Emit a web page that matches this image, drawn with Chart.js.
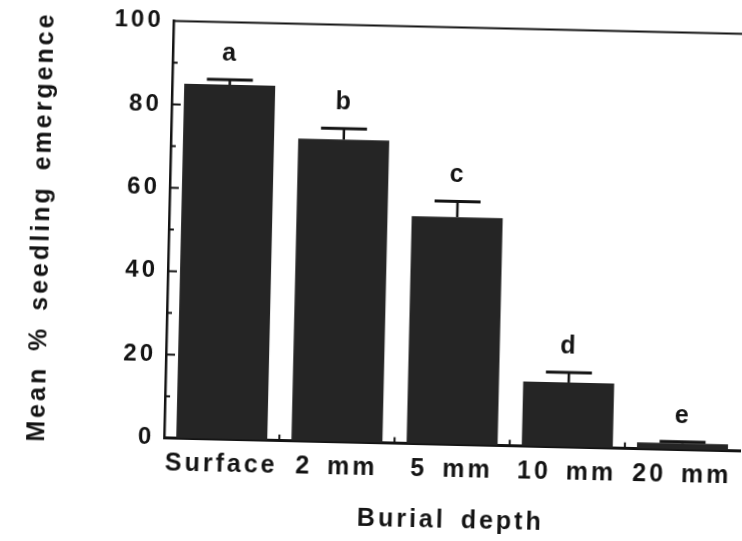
<!DOCTYPE html>
<html>
<head>
<meta charset="utf-8">
<script src="https://cdn.jsdelivr.net/npm/chart.js@4.4.1/dist/chart.umd.min.js"></script>
<style>
  html, body { margin: 0; padding: 0; background: #fff; overflow: hidden; width: 742px; height: 541px; }
  /* the printed figure sits slightly askew on the page */
  #wrap { position: absolute; left: 0; top: 0; width: 760px; height: 541px;
          transform-origin: 371px 270.5px; transform: rotate(1.3deg); }
  canvas { display: block; }
</style>
</head>
<body>
<div id="wrap"><canvas id="chart" width="760" height="541"></canvas></div>
<script>
// Seedling emergence by burial depth (means with standard errors)
const categories = ['Surface', '2 mm', '5 mm', '10 mm', '20 mm'];
const meanEmergence = [85, 72.5, 54.5, 15.5, 1.5];
const stdError = [1.2, 2.6, 3.8, 2.4, 0.4];
const groupLetters = ['a', 'b', 'c', 'd', 'e'];
const yTickValues = [0, 20, 40, 60, 80, 100];

const FONT = "'Liberation Sans', Arial, Helvetica, sans-serif";
const INK = '#141414';
const BAR = '#252525';

function setSpacing(chart) {
  chart.ctx.letterSpacing = '3px';
  chart.ctx.wordSpacing = '5px';
}

const spacingPlugin = {
  id: 'spacing',
  beforeUpdate: setSpacing,
  beforeDraw: setSpacing
};

function seg(ctx, x1, y1, x2, y2) {
  ctx.beginPath();
  ctx.moveTo(x1, y1);
  ctx.lineTo(x2, y2);
  ctx.stroke();
}

// frame top line, inner tick marks, error bars and significance letters
const decorPlugin = {
  id: 'decor',
  afterDatasetsDraw(chart) {
    const { ctx, chartArea: a, scales: { x, y } } = chart;
    ctx.save();
    ctx.strokeStyle = INK;
    ctx.fillStyle = INK;
    ctx.lineCap = 'butt';

    ctx.lineWidth = 2.2;
    seg(ctx, a.left, a.top, a.right, a.top);

    ctx.lineWidth = 2;
    for (let v = 10; v < 100; v += 10) {
      const py = y.getPixelForValue(v);
      const len = v % 20 === 0 ? 9 : 5;
      seg(ctx, a.left, py, a.left + len, py);
    }
    for (let i = 1; i < categories.length; i++) {
      const px = (x.getPixelForValue(i - 1) + x.getPixelForValue(i)) / 2;
      seg(ctx, px, a.bottom, px, a.bottom - 6);
    }

    ctx.font = `bold 25px ${FONT}`;
    ctx.textAlign = 'center';
    ctx.textBaseline = 'alphabetic';
    meanEmergence.forEach((m, i) => {
      const px = x.getPixelForValue(i);
      const y0 = y.getPixelForValue(m);
      const y1 = y.getPixelForValue(m + stdError[i]);
      ctx.lineWidth = 2.5;
      seg(ctx, px, y0, px, y1);
      ctx.lineWidth = 3;
      seg(ctx, px - 23, y1, px + 23, y1);
      ctx.fillText(groupLetters[i], px, y1 - 19);
    });
    ctx.restore();
  }
};

new Chart(document.getElementById('chart'), {
  type: 'bar',
  data: {
    labels: categories,
    datasets: [{
      data: meanEmergence,
      backgroundColor: BAR,
      borderWidth: 0,
      barPercentage: 0.79,
      categoryPercentage: 1
    }]
  },
  options: {
    responsive: false,
    animation: false,
    devicePixelRatio: 1,
    layout: { padding: { top: 25.5, right: 16, bottom: 0, left: 0 } },
    plugins: {
      legend: { display: false },
      tooltip: { enabled: false }
    },
    scales: {
      x: {
        grid: { display: false, drawTicks: false, tickLength: 0 },
        border: { display: true, color: INK, width: 3 },
        ticks: {
          font: { family: FONT, size: 25, weight: 'bold' },
          color: INK,
          padding: 11,
          maxRotation: 0,
          autoSkip: false
        },
        title: {
          display: true,
          text: 'Burial depth',
          font: { family: FONT, size: 25, weight: 'bold' },
          color: INK,
          padding: { top: 0, bottom: 7 }
        },
        afterFit(scale) { scale.height = 98.4; }
      },
      y: {
        min: 0,
        max: 100,
        grid: { display: false, drawTicks: false, tickLength: 0 },
        border: { display: true, color: INK, width: 2.5 },
        afterBuildTicks(scale) { scale.ticks = yTickValues.map(v => ({ value: v })); },
        ticks: {
          font: { family: FONT, size: 24, weight: 'bold' },
          color: INK,
          padding: 10
        },
        title: {
          display: true,
          text: 'Mean % seedling emergence',
          font: { family: FONT, size: 25, weight: 'bold' },
          color: INK,
          padding: { top: 26, bottom: 0 }
        },
        afterFit(scale) { scale.width = 168; }
      }
    }
  },
  plugins: [spacingPlugin, decorPlugin]
});
</script>
</body>
</html>
